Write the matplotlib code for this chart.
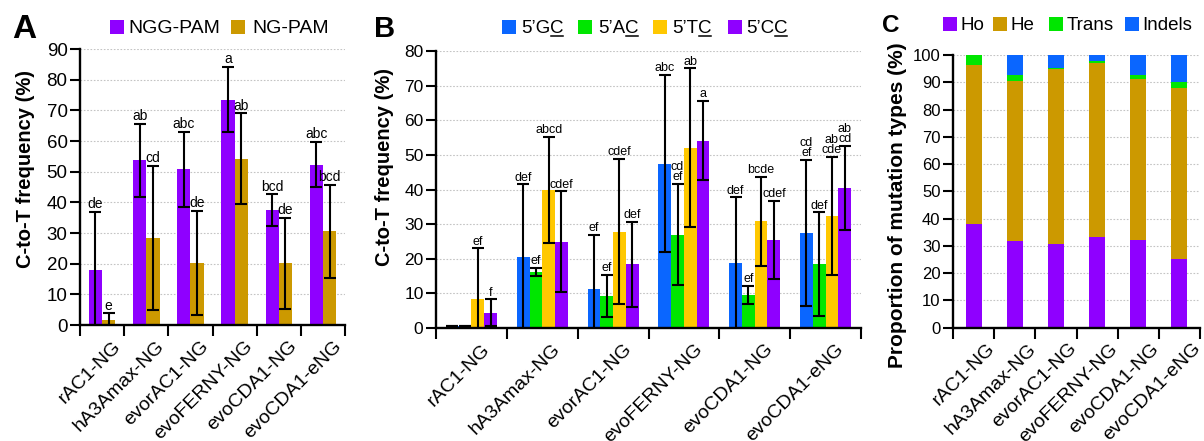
import matplotlib
matplotlib.use("Agg")
import matplotlib.pyplot as plt
import numpy as np
from matplotlib.patches import Rectangle
from matplotlib.lines import Line2D
import matplotlib.transforms as mtransforms

plt.rcParams['font.family'] = ['Liberation Sans', 'DejaVu Sans']

# ---------------- data ----------------
categories = ["rAC1-NG", "hA3Amax-NG", "evorAC1-NG", "evoFERNY-NG", "evoCDA1-NG", "evoCDA1-eNG"]

# Panel A
ngg_mean = [17.9, 53.7, 50.8, 73.5, 37.5, 52.3]
ngg_err = [18.9, 11.8, 12.2, 10.6, 5.1, 7.4]
ngg_letters = ["de", "ab", "abc", "a", "bcd", "abc"]
ng_mean = [1.6, 28.4, 20.2, 54.2, 20.1, 30.6]
ng_err = [2.2, 23.4, 17.1, 14.8, 14.9, 15.2]
ng_letters = ["e", "cd", "de", "ab", "de", "bcd"]
a_series = ["NGG-PAM", "NG-PAM"]

# Panel B
gc_mean = [0.5, 20.4, 11.3, 47.5, 18.7, 27.5]
gc_err = [0.0, 21.1, 15.6, 25.6, 19.0, 21.1]
gc_letters = ["", "def", "ef", "abc", "def", "cd\nef"]
ac_mean = [0.5, 16.2, 9.3, 27.0, 9.6, 18.4]
ac_err = [0.0, 1.2, 6.0, 14.6, 2.6, 15.0]
ac_letters = ["", "ef", "ef", "cd\nef", "ef", "def"]
tc_mean = [8.5, 39.9, 27.8, 52.1, 30.8, 32.4]
tc_err = [14.5, 15.4, 21.0, 22.9, 12.8, 17.1]
tc_letters = ["ef", "abcd", "cdef", "ab", "bcde", "ab\ncde"]
cc_mean = [4.4, 24.9, 18.4, 54.1, 25.5, 40.5]
cc_err = [3.9, 14.6, 12.2, 11.5, 11.3, 12.2]
cc_letters = ["f", "cdef", "def", "a", "cdef", "ab\ncd"]
b_prefix = ["5\u2019G", "5\u2019A", "5\u2019T", "5\u2019C"]
b_under = "C"

# Panel C
ho = [38.0, 31.8, 30.8, 33.4, 32.0, 25.3]
he = [58.5, 58.8, 63.9, 63.8, 59.2, 62.5]
trans = [3.5, 1.9, 0.6, 0.7, 1.6, 2.4]
indels = [0.0, 7.5, 4.7, 2.1, 7.2, 9.8]
c_series = ["Ho", "He", "Trans", "Indels"]

# ---------------- style ----------------
PURPLE = "#8F00FF"
GOLD = "#CC9900"
BLUE = "#0A66FF"
GREEN = "#00E600"
YELLOW = "#FFC800"

W, H = 1204, 441
fig = plt.figure(figsize=(W / 100, H / 100), dpi=100)


def fx(px):
    return px / W


def fy(py):
    return 1 - py / H


def make_axes(l, t, r, b):
    return fig.add_axes([fx(l), fy(b), (r - l) / W, (b - t) / H])


def style_axes(ax, ymax, ystep, ytick_fs, lab_dx):
    n = len(categories)
    ax.set_xlim(0, n)
    ax.set_ylim(0, ymax)
    for s in ("top", "right"):
        ax.spines[s].set_visible(False)
    for s in ("left", "bottom"):
        ax.spines[s].set_linewidth(1.7)
    ax.set_yticks(np.arange(0, ymax + 0.1, ystep))
    ax.tick_params(axis="y", direction="out", length=7, width=1.5,
                   labelsize=ytick_fs, pad=2)
    ax.set_xticks(np.arange(n + 1))
    ax.set_xticklabels([])
    ax.set_xticks(np.arange(n) + 0.5, minor=True)
    ax.set_xticklabels(categories, minor=True, rotation=45, ha="right",
                       va="top", rotation_mode="anchor", fontsize=14)
    ax.tick_params(axis="x", which="major", direction="out", length=8, width=1.5)
    ax.tick_params(axis="x", which="minor", length=0, pad=9)
    off = mtransforms.ScaledTranslation(lab_dx / 72, 0, fig.dpi_scale_trans)
    for lab in ax.get_xticklabels(minor=True):
        lab.set_transform(lab.get_transform() + off)
    ax.yaxis.grid(True, color="#c4c4c4", linestyle=(0, (1.5, 1.5)), linewidth=0.8)
    ax.set_axisbelow(True)


def letters(ax, xs, tops, labs, fs):
    for x, t, s in zip(xs, tops, labs):
        if s:
            ax.annotate(s, (x, t), xytext=(0, 0.5), textcoords="offset points",
                        ha="center", va="bottom", fontsize=fs, linespacing=0.8)


ekw = dict(fmt="none", ecolor="black", elinewidth=1.5, capthick=1.5, zorder=3)
x = np.arange(len(categories)) + 0.5

# ---------------- Panel A ----------------
axA = make_axes(80, 49, 345, 325)
style_axes(axA, 90, 10, 13.5, 7)
wA = 0.3
for off, mean, err, lab, col in [(-0.15, ngg_mean, ngg_err, ngg_letters, PURPLE),
                                 (0.15, ng_mean, ng_err, ng_letters, GOLD)]:
    xs = x + off
    axA.bar(xs, mean, wA, color=col, zorder=2)
    axA.errorbar(xs, mean, yerr=err, capsize=4.5, **ekw)
    letters(axA, xs, np.array(mean) + np.array(err), lab, 10)
axA.set_ylabel("C-to-T frequency (%)", fontsize=14.5, fontweight="bold")
axA.yaxis.set_label_coords(-0.17, 0.565)

# ---------------- Panel B ----------------
axB = make_axes(436, 51, 861, 328)
style_axes(axB, 80, 10, 12.5, 7)
wB = 0.18
b_data = [(gc_mean, gc_err, gc_letters, BLUE), (ac_mean, ac_err, ac_letters, GREEN),
          (tc_mean, tc_err, tc_letters, YELLOW), (cc_mean, cc_err, cc_letters, PURPLE)]
for i, (mean, err, lab, col) in enumerate(b_data):
    xs = x + (i - 1.5) * wB
    axB.bar(xs, mean, wB, color=col, zorder=2)
    axB.errorbar(xs, mean, yerr=err, capsize=4.5, **ekw)
    letters(axB, xs, np.array(mean) + np.array(err), lab, 9)
axB.set_ylabel("C-to-T frequency (%)", fontsize=14.5, fontweight="bold")
axB.yaxis.set_label_coords(-0.099, 0.58)

# ---------------- Panel C ----------------
axC = make_axes(953, 55, 1200, 327.7)
style_axes(axC, 100, 10, 12, 9)
wC = 0.39
bottom = np.zeros(len(categories))
for vals, col in zip([ho, he, trans, indels], [PURPLE, GOLD, GREEN, BLUE]):
    axC.bar(x, vals, wC, bottom=bottom, color=col, zorder=2)
    bottom = bottom + np.array(vals)
axC.set_ylabel("Proportion of mutation types (%)", fontsize=15, fontweight="bold")
axC.yaxis.set_label_coords(-0.186, 0.45)

# ---------------- panel letters ----------------
fig.text(fx(12), fy(38), "A", fontsize=24, fontweight="bold", va="baseline")
fig.text(fx(374), fy(37), "B", fontsize=21, fontweight="bold", va="baseline")
fig.text(fx(882), fy(32), "C", fontsize=17.5, fontweight="bold", va="baseline")


# ---------------- legends ----------------
def square(px, py_top, size, col):
    fig.add_artist(Rectangle((fx(px), fy(py_top + size)), size / W, size / H,
                             transform=fig.transFigure, color=col, lw=0))


# A legend
for sx, tx, lab, col in [(110, 128, a_series[0], PURPLE), (231, 252, a_series[1], GOLD)]:
    square(sx, 20, 14, col)
    fig.text(fx(tx), fy(33), lab, fontsize=14, va="baseline")

# B legend (underlined C)
renderer = fig.canvas.get_renderer()
for sx, tx, pre, col in [(502, 521, b_prefix[0], BLUE), (578, 598, b_prefix[1], GREEN),
                         (653, 672, b_prefix[2], YELLOW), (728, 746, b_prefix[3], PURPLE)]:
    square(sx, 20, 14, col)
    t1 = fig.text(fx(tx), fy(33), pre, fontsize=13.5, va="baseline")
    w1 = t1.get_window_extent(renderer).width
    t2 = fig.text(fx(tx + w1), fy(33), b_under, fontsize=13.5, va="baseline")
    w2 = t2.get_window_extent(renderer).width
    fig.add_artist(Line2D([fx(tx + w1 + 0.5), fx(tx + w1 + w2 - 0.5)], [fy(35.5), fy(35.5)],
                          transform=fig.transFigure, color="black", lw=1.1))

# C legend
for sx, tx, lab, col in [(943, 961, c_series[0], PURPLE), (993, 1011, c_series[1], GOLD),
                         (1049, 1067, c_series[2], GREEN), (1125, 1142, c_series[3], BLUE)]:
    square(sx, 17, 14, col)
    fig.text(fx(tx), fy(30), lab, fontsize=13.5, va="baseline")

fig.savefig("out.png", dpi=100)
